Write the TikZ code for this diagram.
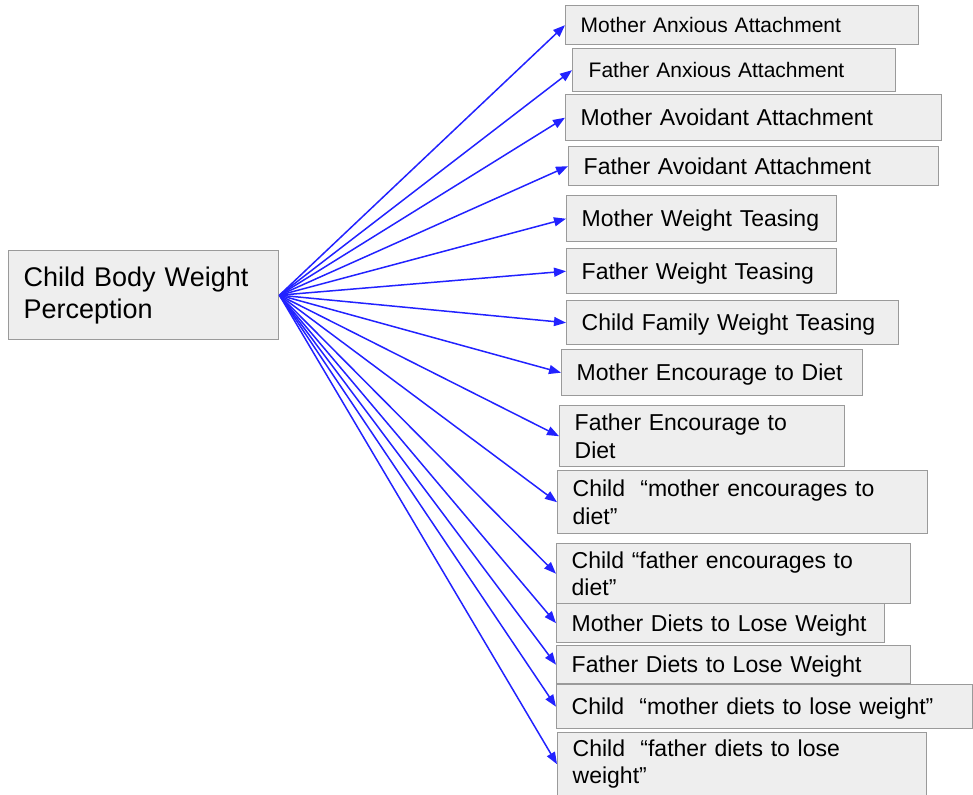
\documentclass[tikz,border=0pt]{standalone}
\usepackage{fontspec}
\setmainfont{Liberation Sans}
\usetikzlibrary{arrows.meta}
\definecolor{boxfill}{HTML}{EEEEEE}
\definecolor{boxline}{HTML}{9A9A9A}
\definecolor{arrowblue}{HTML}{2222FF}
\tikzset{
  box/.style={draw=boxline, fill=boxfill, line width=1.4pt, anchor=north west,
    inner xsep=15pt, inner ysep=0pt, align=left, font=\fontsize{23}{27.6}\selectfont},
  onebox/.style={box, text depth=1pt},
  smallbox/.style={onebox, font=\fontsize{21}{25}\selectfont},
  dims/.style n args={4}{minimum width=#3pt-#1pt, minimum height=#4pt-#2pt, text width=#3pt-#1pt-30pt},
  link/.style={draw=arrowblue, line width=1.5pt, -{Triangle[length=12pt,width=9pt]}}
}
\begin{document}
\begin{tikzpicture}[x=1pt,y=-1pt]
\useasboundingbox (0,0) rectangle (973,794);
\clip (0,0) rectangle (973,794);
\node[box, font=\fontsize{27}{32}\selectfont, dims={8}{250}{278}{339}] (src) at (8,250) {Child Body Weight\\Perception};
\node[smallbox, dims={565}{5}{918}{44}] (b1) at (565,5) {Mother Anxious Attachment};
\node[smallbox, inner xsep=16pt, dims={572}{48}{893}{91}] (b2) at (572,48) {Father Anxious Attachment};
\node[onebox, dims={565}{94}{941}{140}] (b3) at (565,94) {Mother Avoidant Attachment};
\node[onebox, dims={568}{146}{938}{185}] (b4) at (568,146) {Father Avoidant Attachment};
\node[onebox, dims={566}{195}{836}{241}] (b5) at (566,195) {Mother Weight Teasing};
\node[onebox, dims={566}{248}{836}{293}] (b6) at (566,248) {Father Weight Teasing};
\node[onebox, dims={566}{300}{898}{344}] (b7) at (566,300) {Child Family Weight Teasing};
\node[onebox, dims={561}{349}{862}{395}] (b8) at (561,349) {Mother Encourage to Diet};
\node[box, dims={559}{405}{844}{466}] (b9) at (559,405) {Father Encourage to\\Diet};
\node[box, dims={557}{470}{927}{533}] (b10) at (557,470) {Child\ \ “mother encourages to\\diet”};
\node[box, dims={556}{543}{910}{603}] (b11) at (556,543) {Child “father encourages to\\diet”};
\node[onebox, dims={556}{603}{884}{642}] (b12) at (556,603) {Mother Diets to Lose Weight};
\node[onebox, dims={556}{645}{910}{683}] (b13) at (556,645) {Father Diets to Lose Weight};
\node[onebox, dims={556}{684}{972}{728}] (b14) at (556,684) {Child\ \ “mother diets to lose weight”};
\node[box, dims={557}{732}{926}{795}] (b15) at (557,732) {Child\ \ “father diets to lose\\weight”};
\foreach \t in {b1,b2,b3,b4,b5,b6,b7,b8,b9,b10,b11,b12,b13,b14,b15}
  \draw[link] (src.east) -- (\t.west);
\end{tikzpicture}
\end{document}
